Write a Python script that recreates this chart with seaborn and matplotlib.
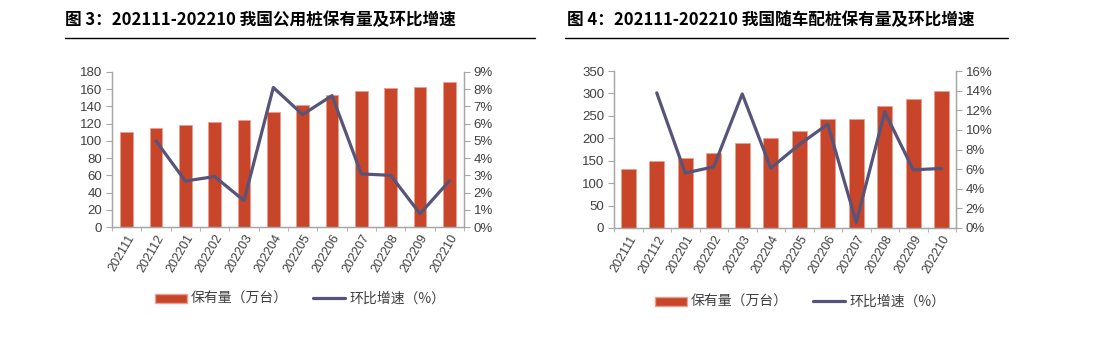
import numpy as np
import pandas as pd
import matplotlib
matplotlib.use("Agg")
import matplotlib.pyplot as plt
import seaborn as sns
from matplotlib.lines import Line2D
from matplotlib.patches import Patch
from matplotlib.ticker import FuncFormatter, MultipleLocator

months = ["202111", "202112", "202201", "202202", "202203", "202204",
          "202205", "202206", "202207", "202208", "202209", "202210"]
public_stock = [110, 115, 118, 122, 124, 134, 142, 153, 158, 162, 163, 168]
public_growth = [np.nan, 5.0, 2.67, 2.93, 1.53, 8.1, 6.53, 7.63, 3.08, 3.0, 0.77, 2.67]
private_stock = [131, 149, 157, 168, 190, 201, 217, 242, 243, 271, 288, 305]
private_growth = [np.nan, 13.77, 5.6, 6.24, 13.66, 6.1, 8.5, 10.58, 0.58, 11.83, 5.93, 6.07]

title_left = "图 3：202111-202210 我国公用桩保有量及环比增速"
title_right = "图 4：202111-202210 我国随车配桩保有量及环比增速"
legend_bar = "保有量（万台）"
legend_line = "环比增速（%）"

BAR = "#C8452A"
LINE = "#57547A"
GRID = "#A6A6A6"
TXT = "#404040"

sns.set_style("white")
plt.rcParams['font.family'] = ['Liberation Sans', 'Noto Sans CJK SC', 'DejaVu Sans']

W, H = 1102, 344
fig = plt.figure(figsize=(W / 100, H / 100), dpi=100)


def px_axes(x0, y0, x1, y1):
    return fig.add_axes([x0 / W, 1 - y1 / H, (x1 - x0) / W, (y1 - y0) / H])


def draw(ax, stock, growth, ymax, ystep, pmax, pstep, bw, title, tx, line_x0, line_x1, leg_x, leg_y):
    df = pd.DataFrame({"month": months, "stock": stock})
    sns.barplot(data=df, x="month", y="stock", color=BAR, saturation=1,
                width=bw, ax=ax, edgecolor="#E8A090", linewidth=0.6)
    ax.set_ylim(0, ymax)
    ax.yaxis.set_major_locator(MultipleLocator(ystep))
    ax.set_xlim(-0.5, len(months) - 0.5)
    ax.set_xlabel("")
    ax.set_ylabel("")
    for s in ["left", "bottom", "right"]:
        ax.spines[s].set_color(GRID)
        ax.spines[s].set_linewidth(1)
    ax.spines["top"].set_visible(False)
    ax.tick_params(axis="y", direction="out", length=4, color=GRID,
                   labelsize=9.5, labelcolor=TXT, pad=3, left=True)
    ax.set_xticks(range(len(months)))
    ax.set_xticklabels(months, rotation=60, ha="right", rotation_mode="anchor",
                       fontsize=9, color=TXT)
    ax.tick_params(axis="x", which="major", length=0, pad=4)
    ax.set_xticks(np.arange(-0.5, len(months), 1), minor=True)
    ax.tick_params(axis="x", which="minor", direction="out", length=3, color=GRID, bottom=True)

    ax2 = ax.twinx()
    ldf = pd.DataFrame({"pos": np.arange(len(months)), "g": growth}).dropna()
    sns.lineplot(data=ldf, x="pos", y="g", color=LINE, linewidth=2.3, ax=ax2)
    ax2.set_ylim(0, pmax)
    ax2.yaxis.set_major_locator(MultipleLocator(pstep))
    ax2.yaxis.set_major_formatter(FuncFormatter(lambda v, p: f"{v:.0f}%"))
    ax2.set_ylabel("")
    ax2.set_xlabel("")
    for s in ["left", "bottom", "right"]:
        ax2.spines[s].set_color(GRID)
    ax2.spines["top"].set_visible(False)
    ax2.tick_params(axis="y", direction="out", length=4, color=GRID,
                    labelsize=9.5, labelcolor=TXT, pad=3, right=True)
    ax2.set_xlim(-0.5, len(months) - 0.5)

    fig.text(tx / W, 1 - 20 / H, title, fontsize=12, fontweight="bold",
             family=["Noto Sans CJK SC", "DejaVu Sans"], va="center", ha="left", color="black")
    fig.add_artist(Line2D([line_x0 / W, line_x1 / W], [1 - 38 / H, 1 - 38 / H],
                          color="black", linewidth=1))

    handles = [Patch(facecolor=BAR, edgecolor="#E8A090"),
               Line2D([0], [0], color=LINE, linewidth=2.3)]
    fig.legend(handles, [legend_bar, legend_line], loc="center",
               bbox_to_anchor=(leg_x / W, 1 - leg_y / H), ncol=2, frameon=False,
               prop={"family": ["Noto Sans CJK SC"], "size": 10},
               handlelength=2.3, handleheight=0.6, columnspacing=1.8, handletextpad=0.3,
               labelcolor=TXT)


axL = px_axes(112, 72, 464, 227)
draw(axL, public_stock, public_growth, 180, 20, 9, 1, 0.44, title_left, 65, 65, 535, 300, 299)

axR = px_axes(614, 71, 956, 228)
draw(axR, private_stock, private_growth, 350, 50, 16, 2, 0.51, title_right, 567, 565, 1008, 800, 302)

fig.savefig("out.png", dpi=100, facecolor="white")
